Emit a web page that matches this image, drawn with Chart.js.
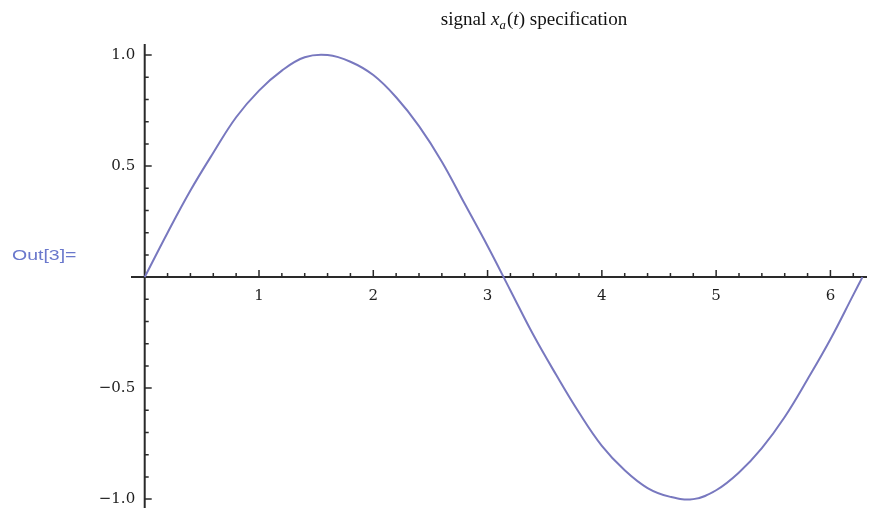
<!DOCTYPE html>
<html>
<head>
<meta charset="utf-8">
<script src="https://cdn.jsdelivr.net/npm/chart.js@4/dist/chart.umd.min.js"></script>
<style>
  html, body { margin: 0; padding: 0; background: #fff; }
</style>
</head>
<body>
<canvas id="myChart" width="870" height="510"></canvas>
<script>
'use strict';

// values
let tValues = [0, 0.2, 0.4, 0.6, 0.8, 1.0, 1.2, 1.4, 1.6, 1.8, 2.0, 2.2, 2.4, 2.6, 2.8, 3.0,
    3.2, 3.4, 3.6, 3.8, 4.0, 4.2, 4.4, 4.6, 4.8, 5.0, 5.2, 5.4, 5.6, 5.8, 6.0, 6.2, 6.28];
let signalValues = [0, 0.20, 0.39, 0.56, 0.72, 0.84, 0.93, 0.99, 1.00, 0.97, 0.91, 0.81, 0.68, 0.52, 0.33, 0.14,
    -0.06, -0.26, -0.44, -0.61, -0.76, -0.87, -0.95, -0.99, -1.00, -0.96, -0.88, -0.77, -0.63, -0.46, -0.28, -0.08, 0.00];
let xTickLabels = [1, 2, 3, 4, 5, 6];
let yTickLabels = [-1.0, -0.5, 0.5, 1.0];

let lineColor = '#7878bf';
let axisColor = '#2a2a2a';

let points = [];
for (let i = 0; i < tValues.length; i++) {
    points.push({ x: tValues[i], y: signalValues[i] });
}

// axes crossing at origin, ticks pointing inward like Mathematica
let axesPlugin = {
    id: 'axesPlugin',
    beforeDatasetsDraw(chart) {
        let ctx = chart.ctx;
        let xs = chart.scales.x;
        let ys = chart.scales.y;
        let x0 = xs.getPixelForValue(0);
        let y0 = ys.getPixelForValue(0);
        ctx.save();
        ctx.strokeStyle = axisColor;
        ctx.lineWidth = 2;
        ctx.beginPath();
        ctx.moveTo(xs.getPixelForValue(-0.12), y0);
        ctx.lineTo(xs.getPixelForValue(6.32), y0);
        ctx.moveTo(x0, ys.getPixelForValue(1.05));
        ctx.lineTo(x0, ys.getPixelForValue(-1.04));
        ctx.stroke();

        ctx.lineWidth = 1.5;
        ctx.beginPath();
        for (let i = 1; i <= 31; i++) {
            let px = xs.getPixelForValue(i * 0.2);
            let len = (i % 5 === 0) ? 7 : 4;
            ctx.moveTo(px, y0);
            ctx.lineTo(px, y0 - len);
        }
        for (let i = -10; i <= 10; i++) {
            if (i === 0) continue;
            let py = ys.getPixelForValue(i * 0.1);
            let len = (i % 5 === 0) ? 7 : 4;
            ctx.moveTo(x0, py);
            ctx.lineTo(x0 + len, py);
        }
        ctx.stroke();
        ctx.restore();
    },
    afterDraw(chart) {
        let ctx = chart.ctx;
        // title: signal x_a(t) specification
        let parts = [
            { text: 'signal ', font: '18px "Liberation Serif", serif', dy: 0 },
            { text: 'x', font: 'italic 18px "Liberation Serif", serif', dy: 0 },
            { text: 'a', font: 'italic 12px "Liberation Serif", serif', dy: 4 },
            { text: '(', font: '18px "Liberation Serif", serif', dy: 0 },
            { text: 't', font: 'italic 18px "Liberation Serif", serif', dy: 0 },
            { text: ') specification', font: '18px "Liberation Serif", serif', dy: 0 }
        ];
        let sx = 1.06;
        ctx.save();
        let total = 0;
        for (let p of parts) {
            ctx.font = p.font;
            p.w = ctx.measureText(p.text).width + (p.text === 'a' ? 1 : 0);
            total += p.w;
        }
        ctx.translate(534 - total * sx / 2, 0);
        ctx.scale(sx, 1);
        ctx.fillStyle = '#111';
        let x = 0;
        for (let p of parts) {
            ctx.font = p.font;
            ctx.fillText(p.text, x, 25 + p.dy);
            x += p.w;
        }
        ctx.restore();

        // Mathematica output cell label
        ctx.save();
        ctx.translate(12, 0);
        ctx.scale(1.3, 1);
        ctx.font = '15px "Liberation Sans", Arial, sans-serif';
        ctx.fillStyle = '#6a78cc';
        ctx.fillText('Out[3]=', 0, 260);
        ctx.restore();
    }
};

function fmtTick(v) {
    // trailing spaces keep the label clear of the axis
    return v.toFixed(1).replace('-', '\u2212') + '  ';
}

function noBox(scale) {
    if (scale.isHorizontal()) scale.height = 0; else scale.width = 0;
    scale.paddingTop = 0;
    scale.paddingBottom = 0;
    scale.paddingLeft = 0;
    scale.paddingRight = 0;
}

let ctx = document.getElementById('myChart').getContext('2d');
let myChart = new Chart(ctx, {
    type: 'line',
    data: {
        datasets: [{
            label: 'signal',
            data: points,
            borderColor: lineColor,
            borderWidth: 2,
            pointRadius: 0,
            tension: 0.4,
            fill: false
        }]
    },
    options: {
        responsive: false,
        animation: false,
        layout: { padding: { left: 131, right: 3, top: 44, bottom: 2 } },
        plugins: {
            legend: { display: false },
            tooltip: { enabled: false },
            title: { display: false }
        },
        scales: {
            x: {
                type: 'linear',
                min: -0.12,
                max: 6.32,
                position: { y: 0 },
                grid: { display: false, drawTicks: false },
                border: { display: false },
                afterBuildTicks: scale => { scale.ticks = xTickLabels.map(v => ({ value: v })); },
                afterFit: noBox,
                ticks: {
                    padding: 10,
                    color: '#1e1e1e',
                    font: { family: '"DejaVu Serif", serif', size: 15 },
                    maxRotation: 0,
                    autoSkip: false,
                    callback: v => String(v)
                }
            },
            y: {
                type: 'linear',
                min: -1.04,
                max: 1.05,
                position: { x: 0 },
                grid: { display: false, drawTicks: false },
                border: { display: false },
                afterBuildTicks: scale => { scale.ticks = yTickLabels.map(v => ({ value: v })); },
                afterFit: noBox,
                ticks: {
                    color: '#1e1e1e',
                    font: { family: '"DejaVu Serif", serif', size: 15 },
                    autoSkip: false,
                    callback: v => fmtTick(v)
                }
            }
        }
    },
    plugins: [axesPlugin]
});
</script>
</body>
</html>
